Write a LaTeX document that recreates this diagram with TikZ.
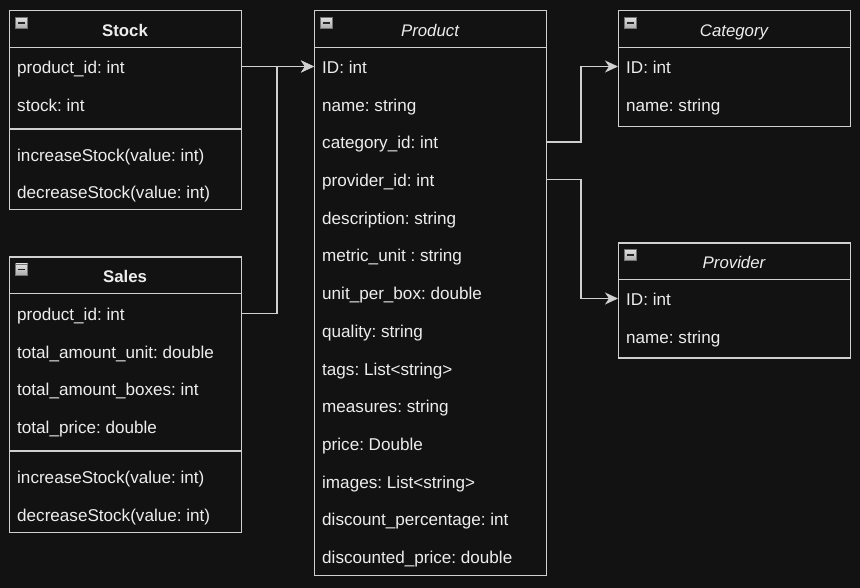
\documentclass[tikz,border=0pt]{standalone}
\usepackage{fontspec}
\setmainfont{Liberation Sans}
\usetikzlibrary{arrows.meta}
\definecolor{bg}{HTML}{121212}
\definecolor{ln}{HTML}{D0D0D0}
\definecolor{tx}{HTML}{EDEDED}
\frenchspacing
\begin{document}
\begin{tikzpicture}[x=1pt,y=-1pt,
  box/.style={draw=ln, line width=1.3pt, anchor=north west, inner sep=0pt, minimum width=232pt},
  sep/.style={draw=ln, line width=1.3pt},
  row/.style={anchor=west, inner sep=0pt, text=tx, text height=17pt, text depth=3pt, font=\fontsize{17.1}{20}\selectfont},
  titleb/.style={inner sep=0pt, text=tx, text height=17pt, text depth=3pt, font=\fontsize{16.8}{20}\selectfont\bfseries},
  titlei/.style={inner sep=0pt, text=tx, text height=17pt, text depth=3pt, font=\fontsize{16.8}{20}\selectfont\itshape},
  icon/.style={draw=black!55, line width=0.6pt, minimum width=12pt, minimum height=11pt, inner sep=0pt,
    top color=gray!25, bottom color=gray!65,
    path picture={\draw[black!85, line width=1.6pt] ([xshift=-3.6pt]path picture bounding box.center) -- ([xshift=3.6pt]path picture bounding box.center);}},
  conn/.style={draw=ln, line width=1.3pt, -{Stealth[length=13pt, width=12pt, inset=4pt]}}
]
\useasboundingbox[fill=bg] (0,0) rectangle (860,588);

% ---------- Stock ----------
\node[box, minimum height=199pt] (stock) at (9,10) {};
\draw[sep] (9,47.5) -- (241,47.5);
\draw[sep] (9,129) -- (241,129);
\node[icon] (stockI) at (21.5,23) {};
\node[titleb] (stockT) at (125,29.5) {Stock};
\node[row] (s1) at (17,66.5) {product\_id: int};
\node[row] (s2) at (17,104.5) {stock: int};
\node[row] (s3) at (17,154.5) {increaseStock(value: int)};
\node[row] (s4) at (17,191.5) {decreaseStock(value: int)};

% ---------- Sales ----------
\node[box, minimum height=275pt] (sales) at (9,256.5) {};
\draw[sep] (9,293.5) -- (241,293.5);
\draw[sep] (9,451) -- (241,451);
\node[icon] (salesI) at (21.5,269.5) {};
\node[titleb] (salesT) at (125,275.5) {Sales};
\node[row] (a1) at (17,313.5) {product\_id: int};
\node[row] (a2) at (17,351) {total\_amount\_unit: double};
\node[row] (a3) at (17,388.5) {total\_amount\_boxes: int};
\node[row] (a4) at (17,426.5) {total\_price: double};
\node[row] (a5) at (17,476) {increaseStock(value: int)};
\node[row] (a6) at (17,514) {decreaseStock(value: int)};

% ---------- Product ----------
\node[box, minimum height=565pt] (prod) at (314,10) {};
\draw[sep] (314,47.5) -- (546,47.5);
\node[icon] (prodI) at (326.5,23) {};
\node[titlei] (prodT) at (430,29.5) {Product};
\node[row] (p1) at (322,66.5) {ID: int};
\node[row] (p2) at (322,104.2) {name: string};
\node[row] (p3) at (322,141.9) {category\_id: int};
\node[row] (p4) at (322,179.6) {provider\_id: int};
\node[row] (p5) at (322,217.3) {description: string};
\node[row] (p6) at (322,255) {metric\_unit : string};
\node[row] (p7) at (322,292.7) {unit\_per\_box: double};
\node[row] (p8) at (322,330.4) {quality: string};
\node[row] (p9) at (322,368.1) {tags: List<string>};
\node[row] (p10) at (322,405.8) {measures: string};
\node[row] (p11) at (322,443.5) {price: Double};
\node[row] (p12) at (322,481.2) {images: List<string>};
\node[row] (p13) at (322,518.9) {discount\_percentage: int};
\node[row] (p14) at (322,556.6) {discounted\_price: double};

% ---------- Category ----------
\node[box, minimum height=116pt] (cat) at (618,10) {};
\draw[sep] (618,47.5) -- (850,47.5);
\node[icon] (catI) at (630.5,23) {};
\node[titlei] (catT) at (734,29.5) {Category};
\node[row] (c1) at (626,66.5) {ID: int};
\node[row] (c2) at (626,104.5) {name: string};

% ---------- Provider ----------
\node[box, minimum height=115pt] (prov) at (618,242.3) {};
\draw[sep] (618,279.5) -- (850,279.5);
\node[icon] (provI) at (630.5,255) {};
\node[titlei] (provT) at (734,261.5) {Provider};
\node[row] (v1) at (626,298.5) {ID: int};
\node[row] (v2) at (626,336.5) {name: string};

% ---------- connectors ----------
\coordinate (jl) at (277,0);
\coordinate (jr) at (581,0);
\draw[conn] (stock.east |- s1) -- (prod.west |- p1);
\draw[conn] (sales.east |- a1) -| (jl |- p1) -- (prod.west |- p1);
\draw[conn] (prod.east |- p3) -| (jr |- c1) -- (cat.west |- c1);
\draw[conn] (prod.east |- p4) -| (jr |- v1) -- (prov.west |- v1);
\end{tikzpicture}
\end{document}
